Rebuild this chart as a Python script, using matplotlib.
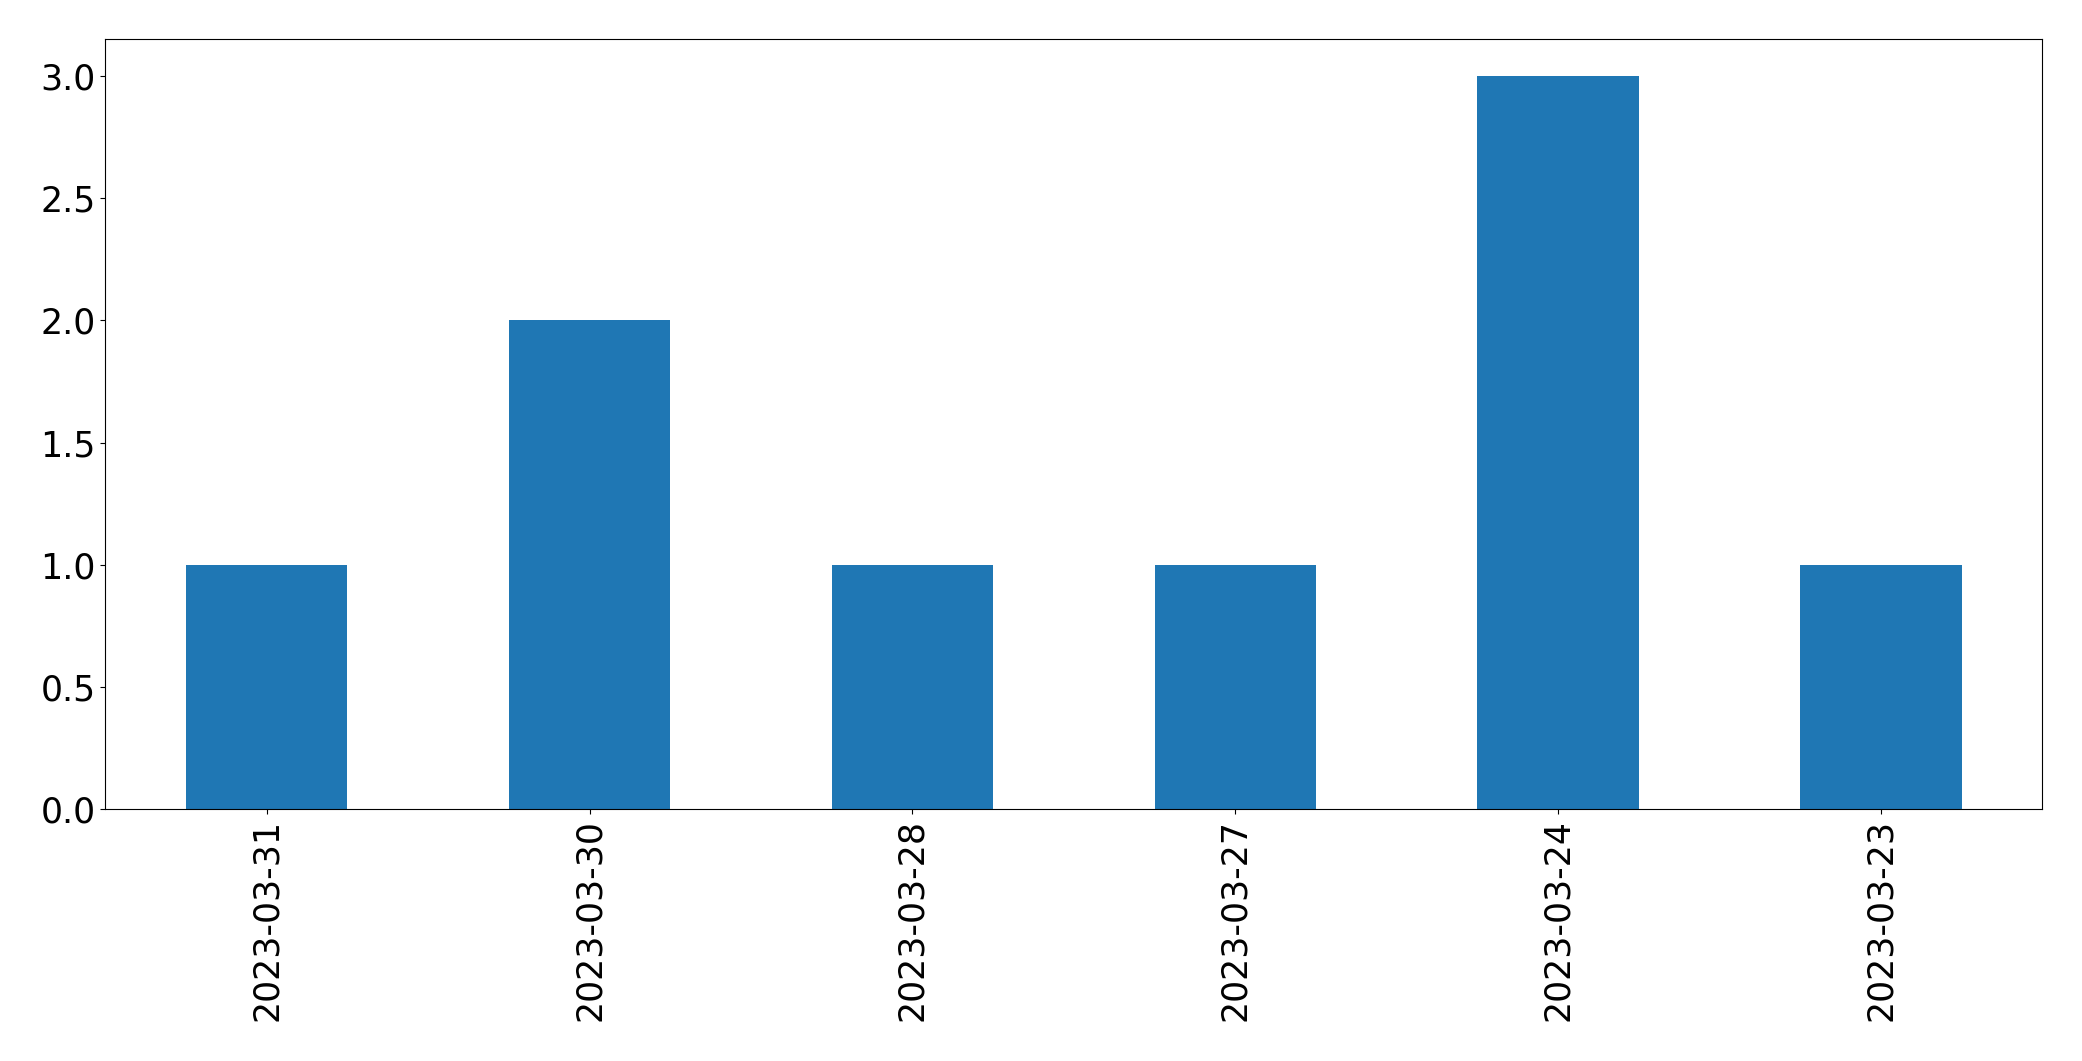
import matplotlib
matplotlib.use("Agg")
from matplotlib import pyplot as plt

# Count per date
dates = ["2023-03-31", "2023-03-30", "2023-03-28", "2023-03-27", "2023-03-24", "2023-03-23"]
counts = [1, 2, 1, 1, 3, 1]

fig, ax = plt.subplots(figsize=(20.82, 10.61), dpi=100)
fig.subplots_adjust(left=0.0506, right=0.981, top=0.963, bottom=0.2372)

ax.bar(range(len(dates)), counts, width=0.5, color="#1f77b4")
ax.set_xticks(range(len(dates)))
ax.set_xticklabels(dates, rotation=90)
ax.set_xlim(-0.5, len(dates) - 0.5)
ax.set_ylim(0, 3.15)
ax.tick_params(labelsize=25)

fig.savefig("out.png")
